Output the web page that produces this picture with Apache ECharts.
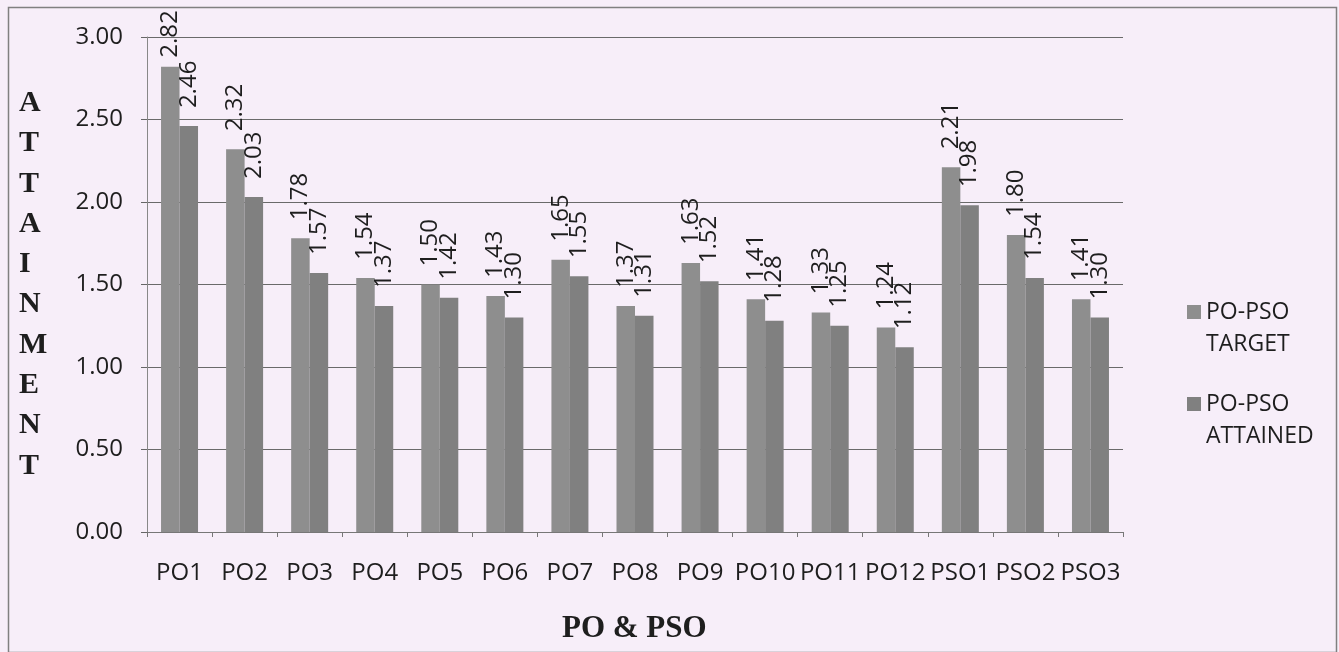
<!DOCTYPE html>
<html>
<head>
<meta charset="utf-8">
<script src="https://cdn.jsdelivr.net/npm/echarts@6/dist/echarts.min.js"></script>
<style>
html,body{margin:0;padding:0;background:#f7eef9;}
#chart{width:1339px;height:652px;}
</style>
</head>
<body>
<div id="chart"></div>
<script>
var categories = ['PO1','PO2','PO3','PO4','PO5','PO6','PO7','PO8','PO9','PO10','PO11','PO12','PSO1','PSO2','PSO3'];
var targetValues = [2.82,2.32,1.78,1.54,1.50,1.43,1.65,1.37,1.63,1.41,1.33,1.24,2.21,1.80,1.41];
var attainedValues = [2.46,2.03,1.57,1.37,1.42,1.30,1.55,1.31,1.52,1.28,1.25,1.12,1.98,1.54,1.30];
var seriesNames = ['PO-PSO TARGET','PO-PSO ATTAINED'];
var yTitle = 'ATTAINMENT';
var xTitle = 'PO & PSO';

var font = '"Open Sans", "Liberation Sans", sans-serif';
var serif = '"Liberation Serif", "DejaVu Serif", serif';

function labelCfg(dist) {
  return {
    show: true,
    position: 'top',
    rotate: 90,
    align: 'left',
    verticalAlign: 'middle',
    distance: dist,
    fontFamily: font,
    fontSize: 24,
    color: '#1e1e1e',
    formatter: function (p) { return p.value.toFixed(2); }
  };
}
// labels near the top of the plot sit closer to their bar so they stay inside
function toData(arr) {
  return arr.map(function (v) {
    return v > 2.6 ? {value: v, label: labelCfg(9)} : v;
  });
}

var chart = echarts.init(document.getElementById('chart'));
chart.setOption({
  backgroundColor: '#f7eef9',
  animation: false,
  grid: {left: 147, right: 216, top: 37, bottom: 120},
  legend: {
    orient: 'vertical',
    left: 1182,
    top: 291,
    itemWidth: 14,
    itemHeight: 46,
    itemGap: 28,
    icon: 'path://M0,0L10,0L10,10L0,10Z M0,32.86L0.001,32.86L0.001,32.861Z',
    formatter: function (n) { return n.replace(' ', '\n'); },
    textStyle: {fontFamily: font, fontSize: 23, color: '#1e1e1e', lineHeight: 32},
    data: seriesNames
  },
  xAxis: {
    type: 'category',
    data: categories,
    axisLine: {show: true, lineStyle: {color: '#777', width: 1}},
    axisTick: {show: true, length: 5, lineStyle: {color: '#777'}},
    axisLabel: {fontFamily: font, fontSize: 24, color: '#1e1e1e', margin: 29, interval: 0}
  },
  yAxis: {
    type: 'value',
    min: 0,
    max: 3,
    interval: 0.5,
    axisLine: {show: true, lineStyle: {color: '#888', width: 1}},
    axisTick: {show: true, length: 6, lineStyle: {color: '#666'}},
    splitLine: {show: true, lineStyle: {color: '#6a6a6a', width: 1}},
    axisLabel: {fontFamily: font, fontSize: 24, color: '#1e1e1e', margin: 24,
      formatter: function (v) { return v.toFixed(2); }}
  },
  series: [
    {name: seriesNames[0], type: 'bar', data: toData(targetValues), barWidth: 18.5, barGap: '0%',
     itemStyle: {color: '#8e8e8e'}, label: labelCfg(18)},
    {name: seriesNames[1], type: 'bar', data: toData(attainedValues), barWidth: 18.5, barGap: '0%',
     itemStyle: {color: '#808080'}, label: labelCfg(18)}
  ],
  graphic: [
    {type: 'rect', left: 6, top: 5, silent: true,
     shape: {width: 1328, height: 645},
     style: {fill: 'none', stroke: '#808080', lineWidth: 1.5}},
    {type: 'text', left: 19, top: 83,
     style: {text: yTitle.split('').join('\n'), fontFamily: serif, fontWeight: 'bold', fontSize: 30,
       lineHeight: 40.3, fill: '#1e1e1e', align: 'center'}},
    {type: 'text', left: 562, top: 613,
     style: {text: xTitle, fontFamily: serif, fontWeight: 'bold', fontSize: 31, fill: '#1e1e1e'}}
  ]
});
</script>
</body>
</html>
